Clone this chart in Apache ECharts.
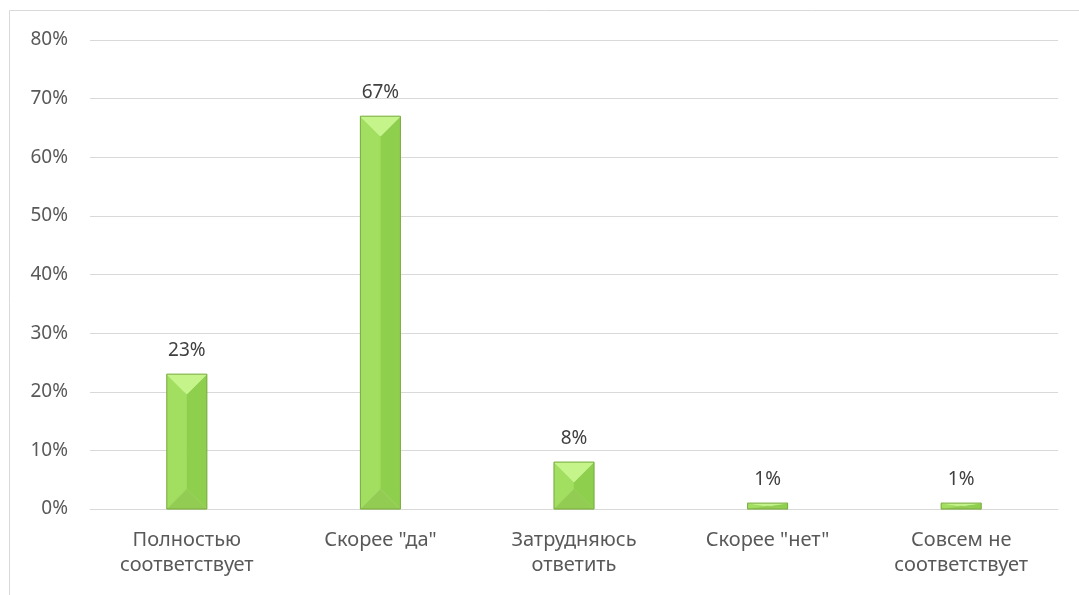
<!DOCTYPE html>
<html><head><meta charset="utf-8">
<script src="https://cdn.jsdelivr.net/npm/echarts@6/dist/echarts.min.js"></script>
<style>html,body{margin:0;padding:0;background:#fff}#c{width:1079px;height:595px}</style>
</head><body><div id="c"></div>
<script>
const categories = ['Полностью\nсоответствует', 'Скорее "да"', 'Затрудняюсь\nответить', 'Скорее "нет"', 'Совсем не\nсоответствует'];
const values = [23, 67, 8, 1, 1];
const yTicks = [0, 10, 20, 30, 40, 50, 60, 70, 80];

const chart = echarts.init(document.getElementById('c'));
const font = '"Noto Sans", "Open Sans", sans-serif';
chart.setOption({
  animation: false,
  graphic: [{type:'rect', shape:{x:9.5,y:10.5,width:1100,height:700}, style:{fill:'none', stroke:'#d9d9d9', lineWidth:1}, silent:true}],
  grid: {left: 90, right: 21, top: 40, bottom: 86},
  xAxis: {
    type: 'category', data: categories,
    axisTick: {show: false},
    axisLine: {lineStyle: {color: '#d9d9d9', width: 1}},
    axisLabel: {color: '#595959', fontSize: 20, fontFamily: font, lineHeight: 25, margin: 19, interval: 0}
  },
  yAxis: {
    type: 'value', min: yTicks[0], max: yTicks[yTicks.length - 1], interval: 10,
    axisLabel: {color: '#595959', fontSize: 19, fontFamily: font, margin: 22, formatter: v => v + '%'},
    splitLine: {lineStyle: {color: '#d9d9d9', width: 1}},
    axisLine: {show: false}, axisTick: {show: false}
  },
  series: [{
    type: 'custom',
    data: values.map((v, i) => [i, v]),
    encode: {x: 0, y: 1},
    renderItem: function (params, api) {
      const i = api.value(0), v = api.value(1);
      const top = api.coord([i, v]);
      const base = api.coord([i, 0]);
      const w = 40;
      const x0 = top[0] - w / 2, x1 = top[0] + w / 2, xc = top[0];
      const yt = top[1], yb = base[1];
      const h = yb - yt;
      const d = Math.min(w / 2, h / 2);
      const poly = (pts, fill) => ({type: 'polygon', shape: {points: pts}, style: {fill: fill, stroke: fill, lineWidth: 0.5}});
      return {type: 'group', children: [
        poly([[x0, yt], [xc, yt + d], [xc, yb - d], [x0, yb]], '#a2df60'),
        poly([[x1, yt], [xc, yt + d], [xc, yb - d], [x1, yb]], '#8fcf4e'),
        poly([[x0, yt], [x1, yt], [xc, yt + d]], '#c4f48a'),
        poly([[x0, yb], [x1, yb], [xc, yb - d]], '#92cc52'),
        {type: 'rect', shape: {x: x0, y: yt, width: w, height: h}, style: {fill: 'none', stroke: '#7aaa42', lineWidth: 1}},
        {type: 'text', style: {text: v + '%', x: xc, y: yt - 24, align: 'center', verticalAlign: 'middle', fill: '#404040', fontSize: 19, fontFamily: font}}
      ]};
    }
  }]
});
</script></body></html>
